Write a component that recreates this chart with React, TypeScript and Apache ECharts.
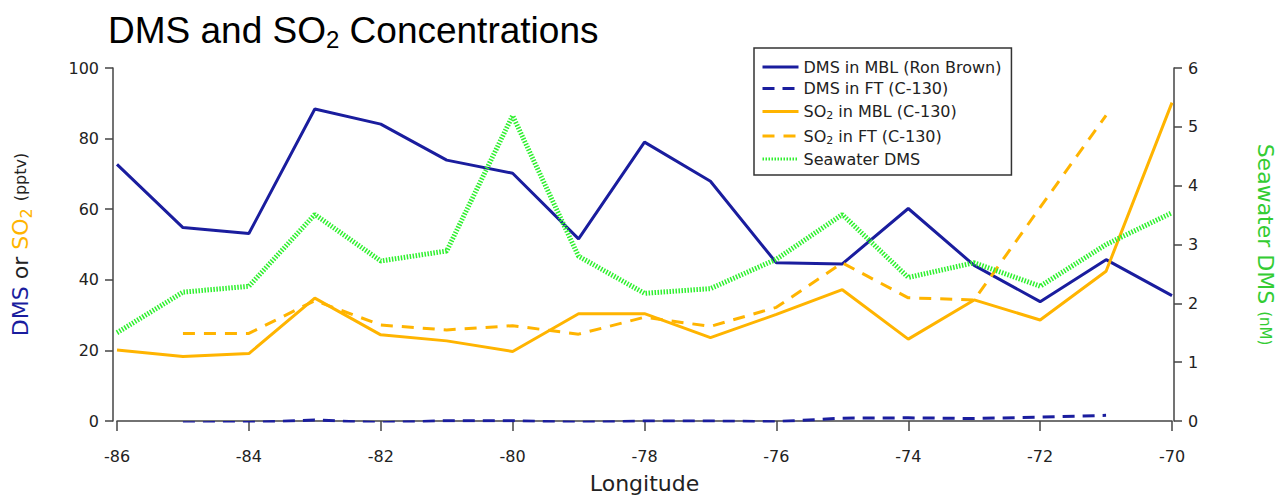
import React, { useEffect, useRef } from "react";
import * as echarts from "echarts";

const longitudes = [-86, -85, -84, -83, -82, -81, -80, -79, -78, -77, -76, -75, -74, -73, -72, -71, -70];
const ftLongitudes = [-85, -84, -83, -82, -81, -80, -79, -78, -77, -76, -75, -74, -73, -72, -71];
const dmsMBL = [72.7, 54.8, 53.1, 88.4, 84.1, 73.9, 70.2, 51.6, 79.0, 67.9, 44.8, 44.5, 60.2, 44.1, 33.8, 45.7, 35.5];
const dmsFT = [-0.5, -0.4, 0.3, -0.5, 0.1, 0.1, -0.4, 0.0, 0.0, -0.2, 0.8, 0.9, 0.7, 1.1, 1.6];
const so2MBL = [20.1, 18.3, 19.1, 34.8, 24.4, 22.7, 19.7, 30.4, 30.4, 23.6, 30.2, 37.2, 23.2, 34.3, 28.6, 42.4, 90.2];
const so2FT = [24.8, 24.8, 34.1, 27.2, 25.8, 27.0, 24.6, 29.4, 26.8, 32.2, 44.8, 34.9, 34.3, 60.5, 86.6];
const seawaterDMS = [1.5, 2.19, 2.29, 3.51, 2.72, 2.89, 5.19, 2.8, 2.17, 2.25, 2.75, 3.51, 2.44, 2.69, 2.29, 3.0, 3.54];

const seriesNames = [
  "DMS in MBL (Ron Brown)",
  "DMS in FT (C-130)",
  "SO2 in MBL (C-130)",
  "SO2 in FT (C-130)",
  "Seawater DMS",
];

const BLUE = "#1a1d9e";
const ORANGE = "#ffb400";
const GREEN = "#2ef02e";
const LABEL_GREEN = "#33cc33";
const FONT = "DejaVu Sans";

const pair = (xs: number[], ys: number[]) => xs.map((x, i) => [x, ys[i]]);

export default function App() {
  const ref = useRef<HTMLDivElement>(null);
  useEffect(() => {
    if (!ref.current) return;
    const chart = echarts.init(ref.current, null, { renderer: "svg" });
    const axisLine = { show: true, lineStyle: { color: "#444", width: 1.5 } };
    const axisLabel = { color: "#222", fontSize: 16, fontFamily: FONT };
    chart.setOption({
      animation: false,
      backgroundColor: "#fff",
      title: {
        text: "DMS and SO{sub|2} Concentrations",
        left: 103,
        top: 4,
        textStyle: {
          fontFamily: "Liberation Sans",
          fontSize: 37,
          lineHeight: 42,
          fontWeight: "normal",
          color: "#000",
          rich: {
            sub: { fontFamily: "Liberation Sans", fontSize: 24, lineHeight: 24, padding: [18, 0, 0, 0], color: "#000" },
          },
        },
      },
      legend: {
        orient: "vertical",
        left: 754,
        top: 48,
        padding: [11, 10, 8, 7],
        itemWidth: 36,
        itemHeight: 14,
        itemGap: 5.5,
        borderColor: "#333",
        borderWidth: 1.5,
        backgroundColor: "#fff",
        data: seriesNames,
        itemStyle: { opacity: 0, color: "rgba(0,0,0,0)", borderColor: "rgba(0,0,0,0)", borderWidth: 0 },
        lineStyle: { width: 3 },
        formatter: (name: string) => name.replace("SO2", "SO{sub|2}"),
        textStyle: {
          fontFamily: FONT,
          fontSize: 16,
          lineHeight: 14,
          color: "#222",
          rich: {
            sub: { fontFamily: FONT, fontSize: 11, lineHeight: 6, padding: [8, 0, 0, 0], color: "#222" },
          },
        },
      },
      grid: { left: 117, right: 111, top: 68, bottom: 76, outerBoundsMode: "none", containLabel: false },
      xAxis: {
        type: "value",
        min: -86,
        max: -70,
        interval: 2,
        offset: 8,
        name: "Longitude",
        nameLocation: "middle",
        nameGap: 43,
        nameTextStyle: { fontFamily: FONT, fontSize: 22, color: "#222" },
        axisLine,
        axisTick: { show: true, length: 10, lineStyle: { color: "#444", width: 1.5 } },
        axisLabel: { ...axisLabel, margin: 19 },
        splitLine: { show: false },
      },
      yAxis: [
        {
          type: "value",
          min: 0,
          max: 100,
          interval: 20,
          position: "left",
          offset: 4,
          name: "{b|DMS} {k|or} {o|SO}{os|2} {s|(pptv)}",
          nameLocation: "middle",
          nameRotate: 90,
          nameGap: 79,
          nameTextStyle: {
            fontFamily: FONT,
            fontSize: 22,
            rich: {
              b: { fontFamily: FONT, fontSize: 22, color: BLUE },
              k: { fontFamily: FONT, fontSize: 22, color: "#222" },
              o: { fontFamily: FONT, fontSize: 22, color: ORANGE },
              os: { fontFamily: FONT, fontSize: 16, color: ORANGE, padding: [11, 0, 0, 0] },
              s: { fontFamily: FONT, fontSize: 16, color: "#222" },
            },
          },
          axisLine,
          axisTick: { show: true, length: 8, lineStyle: { color: "#444", width: 1.5 } },
          axisLabel: { ...axisLabel, margin: 14 },
          splitLine: { show: false },
        },
        {
          type: "value",
          min: 0,
          max: 6,
          interval: 1,
          position: "right",
          offset: 2,
          name: "{g|Seawater DMS} {s|(nM)}",
          nameLocation: "middle",
          nameRotate: -90,
          nameGap: 80,
          nameTextStyle: {
            fontFamily: FONT,
            fontSize: 22,
            rich: {
              g: { fontFamily: FONT, fontSize: 22, color: LABEL_GREEN },
              s: { fontFamily: FONT, fontSize: 15, color: LABEL_GREEN },
            },
          },
          axisLine,
          axisTick: { show: true, length: 8, lineStyle: { color: "#444", width: 1.5 } },
          axisLabel: { ...axisLabel, margin: 14 },
          splitLine: { show: false },
        },
      ],
      series: [
        {
          name: seriesNames[0],
          type: "line",
          data: pair(longitudes, dmsMBL),
          symbol: "none",
          color: BLUE,
          lineStyle: { color: BLUE, width: 3 },
        },
        {
          name: seriesNames[1],
          type: "line",
          data: pair(ftLongitudes, dmsFT),
          symbol: "none",
          color: BLUE,
          lineStyle: { color: BLUE, width: 3, type: [12, 8] },
        },
        {
          name: seriesNames[2],
          type: "line",
          data: pair(longitudes, so2MBL),
          symbol: "none",
          color: ORANGE,
          lineStyle: { color: ORANGE, width: 3 },
        },
        {
          name: seriesNames[3],
          type: "line",
          data: pair(ftLongitudes, so2FT),
          symbol: "none",
          color: ORANGE,
          lineStyle: { color: ORANGE, width: 3, type: [12, 9] },
        },
        {
          name: seriesNames[4],
          type: "line",
          yAxisIndex: 1,
          data: pair(longitudes, seawaterDMS),
          symbol: "none",
          color: GREEN,
          lineStyle: { color: GREEN, width: 5, type: [1.5, 1.5] },
        },
      ],
    });
    return () => chart.dispose();
  }, []);
  return <div ref={ref} style={{ position: "fixed", left: 0, top: 0, width: 1283, height: 497 }} />;
}
